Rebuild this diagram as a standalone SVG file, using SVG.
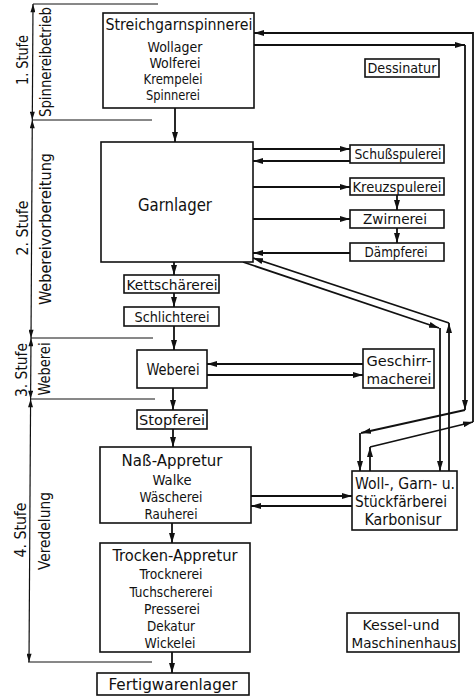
<svg xmlns="http://www.w3.org/2000/svg" width="475" height="697" viewBox="0 0 475 697">
<style>
rect.b{fill:#fff;stroke:#111;stroke-width:1.6}
text{font-family:"DejaVu Sans Condensed","Liberation Sans Narrow","Liberation Sans",sans-serif;font-size:14px;fill:#111;text-anchor:middle}
text.h{font-size:15px}
text.r{font-size:15px}
.c path,.c line{fill:none;stroke:#111;stroke-width:1.8}
.d line{stroke:#111;stroke-width:1.2}
.s line{stroke:#111;stroke-width:1}
</style>
<defs>
<marker id="a" viewBox="0 0 10 6" refX="10" refY="3" markerWidth="10" markerHeight="6" markerUnits="userSpaceOnUse" orient="auto"><path d="M0,0L10,3L0,6z" fill="#111"/></marker>
<marker id="m" viewBox="0 0 10 6" refX="10" refY="3" markerWidth="10" markerHeight="5" markerUnits="userSpaceOnUse" orient="auto-start-reverse"><path d="M0,0L10,3L0,6z" fill="#111"/></marker>
</defs>

<g id="stages">
<g class="s">
<line x1="33" y1="4" x2="158" y2="4"/>
<line x1="32" y1="120" x2="152" y2="120"/>
<line x1="31" y1="338" x2="153" y2="338"/>
<line x1="30" y1="399" x2="155" y2="399"/>
<line x1="28" y1="662" x2="152" y2="662"/>
</g>
<g class="d">
<line x1="33" y1="4" x2="32.3" y2="120" marker-start="url(#m)" marker-end="url(#m)"/>
<line x1="32.3" y1="120" x2="31" y2="338" marker-start="url(#m)" marker-end="url(#m)"/>
<line x1="31" y1="338" x2="30.6" y2="399" marker-start="url(#m)" marker-end="url(#m)"/>
<line x1="30.6" y1="399" x2="29" y2="662" marker-start="url(#m)" marker-end="url(#m)"/>
</g>
<text class="r" transform="translate(28,60) rotate(-90)" textLength="50" lengthAdjust="spacingAndGlyphs">1. Stufe</text>
<text class="r" transform="translate(51,62) rotate(-90)" textLength="110" lengthAdjust="spacingAndGlyphs">Spinnereibetrieb</text>
<text class="r" transform="translate(28,228) rotate(-90)" textLength="55" lengthAdjust="spacingAndGlyphs">2. Stufe</text>
<text class="r" transform="translate(51,229) rotate(-90)" textLength="152" lengthAdjust="spacingAndGlyphs">Webereivorbereitung</text>
<text class="r" transform="translate(27,370) rotate(-90)" textLength="54" lengthAdjust="spacingAndGlyphs">3. Stufe</text>
<text class="r" transform="translate(50,369) rotate(-90)" textLength="53" lengthAdjust="spacingAndGlyphs">Weberei</text>
<text class="r" transform="translate(26,530) rotate(-90)" textLength="55" lengthAdjust="spacingAndGlyphs">4. Stufe</text>
<text class="r" transform="translate(50,531) rotate(-90)" textLength="78" lengthAdjust="spacingAndGlyphs">Veredelung</text>
</g>

<g class="c" id="connectors">
<line x1="175" y1="108" x2="175" y2="142" marker-end="url(#a)"/>
<line x1="174" y1="262" x2="174" y2="275" marker-end="url(#a)"/>
<line x1="174" y1="293" x2="174" y2="307" marker-end="url(#a)"/>
<line x1="174" y1="326" x2="174" y2="350" marker-end="url(#a)"/>
<line x1="173" y1="388" x2="173" y2="410" marker-end="url(#a)"/>
<line x1="173" y1="429" x2="173" y2="447" marker-end="url(#a)"/>
<line x1="172" y1="523" x2="172" y2="543" marker-end="url(#a)"/>
<line x1="172" y1="652" x2="172" y2="673" marker-end="url(#a)"/>
<line x1="253" y1="149" x2="350" y2="149" marker-end="url(#a)"/>
<line x1="350" y1="161" x2="253" y2="161" marker-end="url(#a)"/>
<line x1="253" y1="187" x2="350" y2="187" marker-end="url(#a)"/>
<line x1="253" y1="219" x2="350" y2="219" marker-end="url(#a)"/>
<line x1="350" y1="253" x2="253" y2="253" marker-end="url(#a)"/>
<line x1="397" y1="195" x2="397" y2="210" marker-end="url(#a)"/>
<line x1="397" y1="228" x2="397" y2="243" marker-end="url(#a)"/>
<line x1="363" y1="364" x2="207" y2="364" marker-end="url(#a)"/>
<line x1="207" y1="375" x2="363" y2="375" marker-end="url(#a)"/>
<line x1="251" y1="496" x2="352" y2="496" marker-end="url(#a)"/>
<line x1="352" y1="506" x2="251" y2="506" marker-end="url(#a)"/>
<line x1="254" y1="45" x2="465" y2="45" marker-end="url(#a)"/>
<line x1="465" y1="45" x2="465" y2="410" marker-end="url(#a)"/>
<line x1="465" y1="410" x2="361" y2="433" marker-end="url(#a)"/>
<line x1="360" y1="433" x2="360" y2="471" marker-end="url(#a)"/>
<line x1="370" y1="471" x2="370" y2="447" marker-end="url(#a)"/>
<line x1="370" y1="447" x2="473" y2="422" marker-end="url(#a)"/>
<path d="M473,422V33H254" marker-end="url(#a)"/>
<line x1="243" y1="262" x2="439" y2="328" marker-end="url(#a)"/>
<line x1="440" y1="328" x2="440" y2="471" marker-end="url(#a)"/>
<line x1="449" y1="471" x2="449" y2="323" marker-end="url(#a)"/>
<line x1="449" y1="323" x2="253" y2="258" marker-end="url(#a)"/>
</g>

<g id="streichgarnspinnerei">
<rect class="b" x="103" y="13" width="151" height="95"/>
<text class="h" x="179" y="30" textLength="147" lengthAdjust="spacingAndGlyphs">Streichgarnspinnerei</text>
<text x="175" y="52" textLength="55" lengthAdjust="spacingAndGlyphs">Wollager</text>
<text x="175" y="68" textLength="51" lengthAdjust="spacingAndGlyphs">Wolferei</text>
<text x="173" y="84" textLength="59" lengthAdjust="spacingAndGlyphs">Krempelei</text>
<text x="173" y="100" textLength="54" lengthAdjust="spacingAndGlyphs">Spinnerei</text>
</g>
<g id="dessinatur">
<rect class="b" x="365" y="59" width="74" height="18"/>
<text x="402" y="73" textLength="69" lengthAdjust="spacingAndGlyphs">Dessinatur</text>
</g>
<g id="garnlager">
<rect class="b" x="101" y="142" width="152" height="120"/>
<text x="175" y="211" style="font-size:17px" textLength="74" lengthAdjust="spacingAndGlyphs">Garnlager</text>
</g>
<g id="schussspulerei">
<rect class="b" x="350" y="145" width="94" height="18"/>
<text x="398" y="159" textLength="87" lengthAdjust="spacingAndGlyphs">Schußspulerei</text>
</g>
<g id="kreuzspulerei">
<rect class="b" x="350" y="178" width="94" height="17"/>
<text x="397" y="192" textLength="89" lengthAdjust="spacingAndGlyphs">Kreuzspulerei</text>
</g>
<g id="zwirnerei">
<rect class="b" x="350" y="210" width="94" height="18"/>
<text x="395" y="224" textLength="64" lengthAdjust="spacingAndGlyphs">Zwirnerei</text>
</g>
<g id="daempferei">
<rect class="b" x="350" y="243" width="94" height="18"/>
<text x="396" y="257" textLength="63" lengthAdjust="spacingAndGlyphs">Dämpferei</text>
</g>
<g id="kettschaererei">
<rect class="b" x="124" y="275" width="95" height="18"/>
<text x="172" y="290" textLength="91" lengthAdjust="spacingAndGlyphs">Kettschärerei</text>
</g>
<g id="schlichterei">
<rect class="b" x="124" y="307" width="95" height="19"/>
<text x="172" y="322" textLength="75" lengthAdjust="spacingAndGlyphs">Schlichterei</text>
</g>
<g id="weberei">
<rect class="b" x="137" y="350" width="70" height="38"/>
<text class="h" x="173" y="375" textLength="53" lengthAdjust="spacingAndGlyphs">Weberei</text>
</g>
<g id="geschirrmacherei">
<rect class="b" x="363" y="349" width="71" height="39"/>
<text x="399" y="366" textLength="65" lengthAdjust="spacingAndGlyphs">Geschirr-</text>
<text x="399" y="384" textLength="65" lengthAdjust="spacingAndGlyphs">macherei</text>
</g>
<g id="stopferei">
<rect class="b" x="137" y="410" width="70" height="19"/>
<text x="172" y="425" textLength="66" lengthAdjust="spacingAndGlyphs">Stopferei</text>
</g>
<g id="nass-appretur">
<rect class="b" x="100" y="447" width="151" height="76"/>
<text class="h" x="172" y="466" textLength="101" lengthAdjust="spacingAndGlyphs">Naß-Appretur</text>
<text x="172" y="485" textLength="39" lengthAdjust="spacingAndGlyphs">Walke</text>
<text x="171" y="502" textLength="63" lengthAdjust="spacingAndGlyphs">Wäscherei</text>
<text x="171" y="519" textLength="53" lengthAdjust="spacingAndGlyphs">Rauherei</text>
</g>
<g id="faerberei">
<rect class="b" x="352" y="471" width="105" height="59"/>
<text class="h" x="405" y="489" textLength="100" lengthAdjust="spacingAndGlyphs">Woll-, Garn- u.</text>
<text class="h" x="401" y="507" textLength="92" lengthAdjust="spacingAndGlyphs">Stückfärberei</text>
<text class="h" x="403" y="525" textLength="77" lengthAdjust="spacingAndGlyphs">Karbonisur</text>
</g>
<g id="trocken-appretur">
<rect class="b" x="100" y="543" width="150" height="109"/>
<text class="h" x="175" y="561" textLength="125" lengthAdjust="spacingAndGlyphs">Trocken-Appretur</text>
<text x="171" y="579" textLength="63" lengthAdjust="spacingAndGlyphs">Trocknerei</text>
<text x="171" y="597" textLength="83" lengthAdjust="spacingAndGlyphs">Tuchschererei</text>
<text x="172" y="614" textLength="56" lengthAdjust="spacingAndGlyphs">Presserei</text>
<text x="171" y="631" textLength="48" lengthAdjust="spacingAndGlyphs">Dekatur</text>
<text x="170" y="648" textLength="51" lengthAdjust="spacingAndGlyphs">Wickelei</text>
</g>
<g id="kesselhaus">
<rect class="b" x="347" y="613" width="112" height="39"/>
<text x="401" y="630" textLength="77" lengthAdjust="spacingAndGlyphs">Kessel-und</text>
<text x="404" y="648" textLength="105" lengthAdjust="spacingAndGlyphs">Maschinenhaus</text>
</g>
<g id="fertigwarenlager">
<rect class="b" x="97" y="673" width="152" height="22"/>
<text class="h" x="173" y="690" textLength="129" lengthAdjust="spacingAndGlyphs">Fertigwarenlager</text>
</g>
</svg>
